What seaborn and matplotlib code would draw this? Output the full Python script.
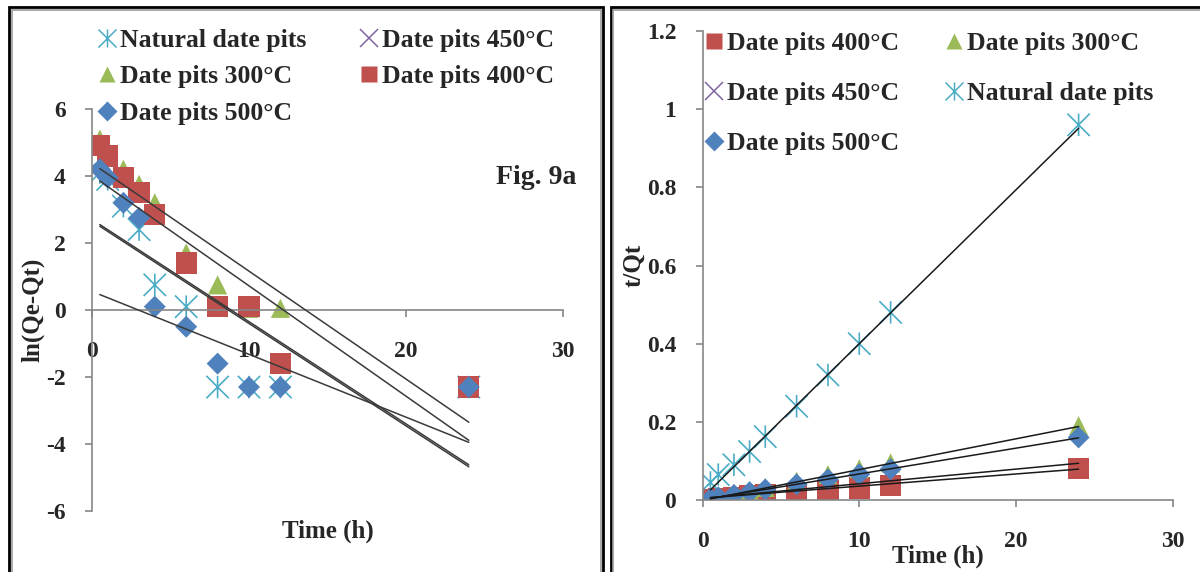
import numpy as np
import pandas as pd
import matplotlib
matplotlib.use("Agg")
import matplotlib.pyplot as plt
import seaborn as sns
from matplotlib.path import Path
from matplotlib.lines import Line2D
from matplotlib.ticker import FuncFormatter

# ---------------- data ----------------
times = [0.5, 1, 2, 3, 4, 6, 8, 10, 12, 24]

# Fig 9a : ln(Qe-Qt)
ln_natural = [4.1, 3.9, 3.1, 2.4, 0.75, 0.1, -2.3, -2.3, -2.3, -2.3]
ln_450 = [2.6, 2.1, 1.1, -0.5, -1.6, -2.3, -2.3, -2.3, -2.3, -2.3]
ln_300 = [5.1, 4.7, 4.2, 3.75, 3.2, 1.7, 0.75, 0.05, 0.05, -2.3]
ln_400 = [4.9, 4.6, 3.95, 3.5, 2.85, 1.4, 0.1, 0.1, -1.6, -2.3]
ln_500 = [4.2, 3.95, 3.2, 2.75, 0.1, -0.5, -1.6, -2.3, -2.3, -2.3]
# trend lines (value at t=0.5 and t=24)
fit_t = [0.5, 24]
ln_fit_natural = [2.50, -4.68]
ln_fit_450 = [0.46, -3.95]
ln_fit_300 = [4.22, -3.35]
ln_fit_400 = [3.85, -3.89]
ln_fit_500 = [2.55, -4.62]

# Fig 9b : t/Qt
tq_natural = [0.045, 0.065, 0.09, 0.124, 0.162, 0.24, 0.32, 0.40, 0.48, 0.96]
tq_450 = [0.002, 0.004, 0.008, 0.012, 0.017, 0.025, 0.033, 0.042, 0.05, 0.10]
tq_300 = [0.004, 0.008, 0.016, 0.024, 0.032, 0.048, 0.065, 0.08, 0.095, 0.19]
tq_400 = [0.002, 0.004, 0.007, 0.01, 0.013, 0.016, 0.024, 0.031, 0.038, 0.08]
tq_500 = [0.003, 0.007, 0.013, 0.02, 0.027, 0.04, 0.053, 0.066, 0.079, 0.16]
tq_fit_natural = [0.026, 0.951]
tq_fit_450 = [0.006, 0.094]
tq_fit_300 = [0.003, 0.188]
tq_fit_400 = [0.006, 0.079]
tq_fit_500 = [0.004, 0.159]

labels = {"natural": "Natural date pits", "450": "Date pits 450°C",
          "300": "Date pits 300°C", "400": "Date pits 400°C",
          "500": "Date pits 500°C"}
x_ticks = [0, 10, 20, 30]
ln_ticks = [-6, -4, -2, 0, 2, 4, 6]
tq_ticks = [0, 0.2, 0.4, 0.6, 0.8, 1.0, 1.2]

# ---------------- style ----------------
sns.set_style("white")
plt.rcParams["font.family"] = ["Liberation Serif", "DejaVu Serif"]
plt.rcParams["font.weight"] = "bold"
plt.rcParams["axes.unicode_minus"] = False

colors = {"natural": "#4BACC6", "450": "#8064A2", "300": "#9BBB59",
          "400": "#C0504D", "500": "#4F81BD"}
star = Path([(-1, -1), (1, 1), (-1, 1), (1, -1), (0, -1), (0, 1)],
            [Path.MOVETO, Path.LINETO, Path.MOVETO, Path.LINETO, Path.MOVETO, Path.LINETO])
mk = {"natural": star, "450": "x", "300": "^", "400": "s", "500": "D"}
msize = {"natural": 260, "450": 230, "300": 190, "400": 235, "500": 125}
lmsize = {"natural": 13, "450": 13, "300": 12, "400": 12, "500": 10}
FS = 17
LFS = 18.5
AX_COL = "#868686"

fig = plt.figure(figsize=(12, 5.72), dpi=100)


def px(x, y):
    return x / 1200, 1 - y / 572


def draw_series(ax, key, yvals):
    df = pd.DataFrame({"t": times, "v": yvals})
    m = mk[key]
    if key in ("natural", "450"):
        sns.scatterplot(data=df, x="t", y="v", ax=ax, marker=m, s=msize[key],
                        facecolor="none", edgecolor=colors[key], color=colors[key],
                        linewidth=1.2, zorder=1)
    else:
        sns.scatterplot(data=df, x="t", y="v", ax=ax, marker=m, s=msize[key],
                        color=colors[key], edgecolor="none", linewidth=0, zorder=1)


def draw_fit(ax, yvals, col):
    sns.lineplot(x=fit_t, y=yvals, ax=ax, color=col, linewidth=1.1, zorder=3)


def handle(key):
    if key in ("natural", "450"):
        return Line2D([], [], linestyle="none", marker=mk[key], markersize=lmsize[key],
                      markerfacecolor="none", markeredgecolor=colors[key], markeredgewidth=1.1)
    return Line2D([], [], linestyle="none", marker=mk[key], markersize=lmsize[key],
                  markerfacecolor=colors[key], markeredgecolor="none")


def style_axes(ax):
    for s in ("top", "right"):
        ax.spines[s].set_visible(False)
    for s in ("left", "bottom"):
        ax.spines[s].set_color(AX_COL)
        ax.spines[s].set_linewidth(1.2)
    ax.tick_params(axis="both", direction="out", length=5, width=1.2, color=AX_COL,
                   labelsize=FS, bottom=True, left=True)
    ax.tick_params(axis="x", pad=17)
    ax.tick_params(axis="y", pad=14)
    for lab in ax.get_xticklabels() + ax.get_yticklabels():
        lab.set_fontweight("bold")
    ax.set_facecolor("none")


# ---------------- left: Fig. 9a ----------------
ax1 = fig.add_axes([92 / 1200, 61 / 572, 471 / 1200, 402 / 572])
for key, vals in [("natural", ln_natural), ("450", ln_450), ("300", ln_300),
                  ("400", ln_400), ("500", ln_500)]:
    draw_series(ax1, key, vals)
for vals in [ln_fit_300, ln_fit_400, ln_fit_500, ln_fit_natural, ln_fit_450]:
    draw_fit(ax1, vals, "#3a3a3a")
ax1.set_xlim(0, 30)
ax1.set_ylim(-6, 6)
ax1.set_xticks(x_ticks)
ax1.set_yticks(ln_ticks)
ax1.spines["bottom"].set_position(("data", 0))
style_axes(ax1)
ax1.set_xlabel("Time (h)", fontsize=FS + 1, fontweight="bold")
ax1.set_ylabel("ln(Qe-Qt)", fontsize=FS + 1, fontweight="bold")
ax1.xaxis.set_label_coords(0.5, -0.05)
ax1.xaxis.label.set_va("center")
ax1.yaxis.set_label_coords(-0.125, 0.5)
ax1.yaxis.label.set_va("center")
ax1.text(0.943, 0.83, "Fig. 9a", transform=ax1.transAxes, ha="center", va="center",
         fontsize=FS + 3, fontweight="bold")

order1 = ["natural", "300", "500", "450", "400"]
leg1 = fig.legend([handle(k) for k in order1], [labels[k] for k in order1],
                  loc="upper left", bbox_to_anchor=px(98, 28.5), bbox_transform=fig.transFigure,
                  ncol=2, frameon=False, borderpad=0, borderaxespad=0,
                  handlelength=0.7, handletextpad=0.15, columnspacing=2.1,
                  labelspacing=0.54, prop={"size": LFS, "weight": "bold"})

# ---------------- right: t/Qt ----------------
ax2 = fig.add_axes([702.6 / 1200, 72 / 572, 470 / 1200, 469 / 572])
for key, vals in [("400", tq_400), ("300", tq_300), ("450", tq_450),
                  ("natural", tq_natural), ("500", tq_500)]:
    draw_series(ax2, key, vals)
for vals in [tq_fit_natural, tq_fit_300, tq_fit_500, tq_fit_450, tq_fit_400]:
    draw_fit(ax2, vals, "#1a1a1a")
ax2.set_xlim(0, 30)
ax2.set_ylim(0, 1.2)
ax2.set_xticks(x_ticks)
ax2.set_yticks(tq_ticks)
ax2.yaxis.set_major_formatter(FuncFormatter(lambda v, p: f"{v:g}"))
style_axes(ax2)
ax2.set_xlabel("Time (h)", fontsize=FS + 1, fontweight="bold")
ax2.set_ylabel("t/Qt", fontsize=FS + 1, fontweight="bold")
ax2.xaxis.set_label_coords(0.5, -0.119)
ax2.xaxis.label.set_va("center")
ax2.yaxis.set_label_coords(-0.146, 0.5)
ax2.yaxis.label.set_va("center")

order2 = ["400", "450", "500", "300", "natural"]
leg2 = fig.legend([handle(k) for k in order2], [labels[k] for k in order2],
                  loc="upper left", bbox_to_anchor=px(705, 32), bbox_transform=fig.transFigure,
                  ncol=2, frameon=False, borderpad=0, borderaxespad=0,
                  handlelength=0.7, handletextpad=0.15, columnspacing=1.8,
                  labelspacing=1.06, prop={"size": LFS, "weight": "bold"})

# ---------------- panel frames ----------------
def frame_line(xs, ys, color, lw):
    fx = [x / 1200 for x in xs]
    fy = [1 - y / 572 for y in ys]
    fig.add_artist(Line2D(fx, fy, transform=fig.transFigure, color=color, linewidth=lw,
                          solid_joinstyle="miter"))

frame_line([9, 9, 603, 603], [580, 7, 7, 580], "black", 2.0)
frame_line([12, 12, 600.5, 600.5], [580, 10, 10, 580], "#9a9a9a", 1.2)
frame_line([610.5, 610.5, 1210], [580, 7, 7], "black", 2.0)
frame_line([613, 613, 1210], [580, 10, 10], "#9a9a9a", 1.2)

fig.savefig("out.png", dpi=100)
